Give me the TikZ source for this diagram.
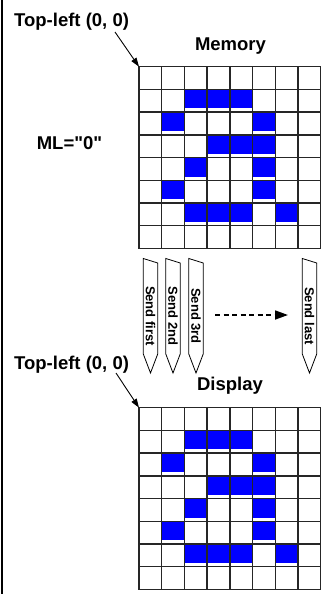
\documentclass[tikz,border=0pt]{standalone}
\usepackage{fontspec}
\setmainfont{Liberation Sans}
\usetikzlibrary{arrows.meta, calc, positioning}

\tikzset{
	lbl/.style={inner sep=0pt, font=\fontsize{18.5}{20}\selectfont\bfseries},
	sendtxt/.style={inner sep=0pt, rotate=-90, font=\fontsize{13}{15}\selectfont\bfseries},
	pencil/.style={draw=black, line width=0.8pt, fill=white, line join=miter},
	cellline/.style={draw=black!85, line width=1.4pt, line cap=rect},
	pix/.style={fill=blue},
	pointer/.style={line width=0.9pt, -{Triangle[length=9pt,width=6pt]}},
	flow/.style={line width=1.7pt, dash pattern=on 5pt off 3.5pt, -{Triangle[length=13pt,width=9pt]}}
}

% lit pixels of the glyph, as row/column
\newcommand{\glyphcells}{1/2,1/3,1/4,2/1,2/5,3/3,3/4,3/5,4/2,4/5,5/1,5/5,6/2,6/3,6/4,6/6}

\begin{document}
\begin{tikzpicture}[x=1pt, y=-1pt]
	\useasboundingbox (0,0) rectangle (330,594);
	
	% Left rule
	\draw[line width=2pt] (2,0) -- (2,594);
	
	% Corners of the two pixel grids
	\coordinate (memtl) at (139,66.7);
	\coordinate (disptl) at (139,407.7);
	
	% Pixel grids: memory on top, display below
	\foreach \gtop in {66.7,407.7} {
		\begin{scope}[shift={(139,\gtop)}, x=22.7pt, y=-22.7pt]
			\foreach \r/\c in \glyphcells {
				\fill[pix] (\c,\r) rectangle (\c+1,\r+0.84);
			}
			\foreach \i in {0,...,8} {
				\draw[cellline] (\i,0) -- (\i,8);
				\draw[cellline] (0,\i) -- (8,\i);
			}
		\end{scope}
	}
	
	% Labels
	\node[lbl, anchor=base west] (tlmem) at (14,27) {Top-left (0, 0)};
	\node[lbl, anchor=base] (memlbl) at (230.5,51) {Memory};
	\node[lbl, anchor=base] (mllbl) at (69.5,149.3) {ML=\textquotedbl 0\textquotedbl};
	\node[lbl, anchor=base west] (tldisp) at (14,369) {Top-left (0, 0)};
	\node[lbl, anchor=base] (displbl) at (230,390) {Display};
	
	\draw[pointer] ($(tlmem.base west)+(101,5)$) -- (memtl);
	\draw[pointer] ($(tldisp.base west)+(102,4)$) -- (disptl);
	
	% Send order
	\foreach \x/\t [count=\i] in {150.5/Send first, 173/Send 2nd, 196/Send 3rd, 309.5/Send last} {
		\draw[pencil] (\x-7.2,258.5) -- (\x+7.2,263) -- (\x+7.2,354) -- (\x,373) -- (\x-7.2,354) -- cycle;
		\node[sendtxt] (send\i) at (\x,316) {\t};
	}
	\draw[flow] ($(send3)+(19,-1)$) -- ($(send4)+(-21.5,-1)$);
	
\end{tikzpicture}
\end{document}
